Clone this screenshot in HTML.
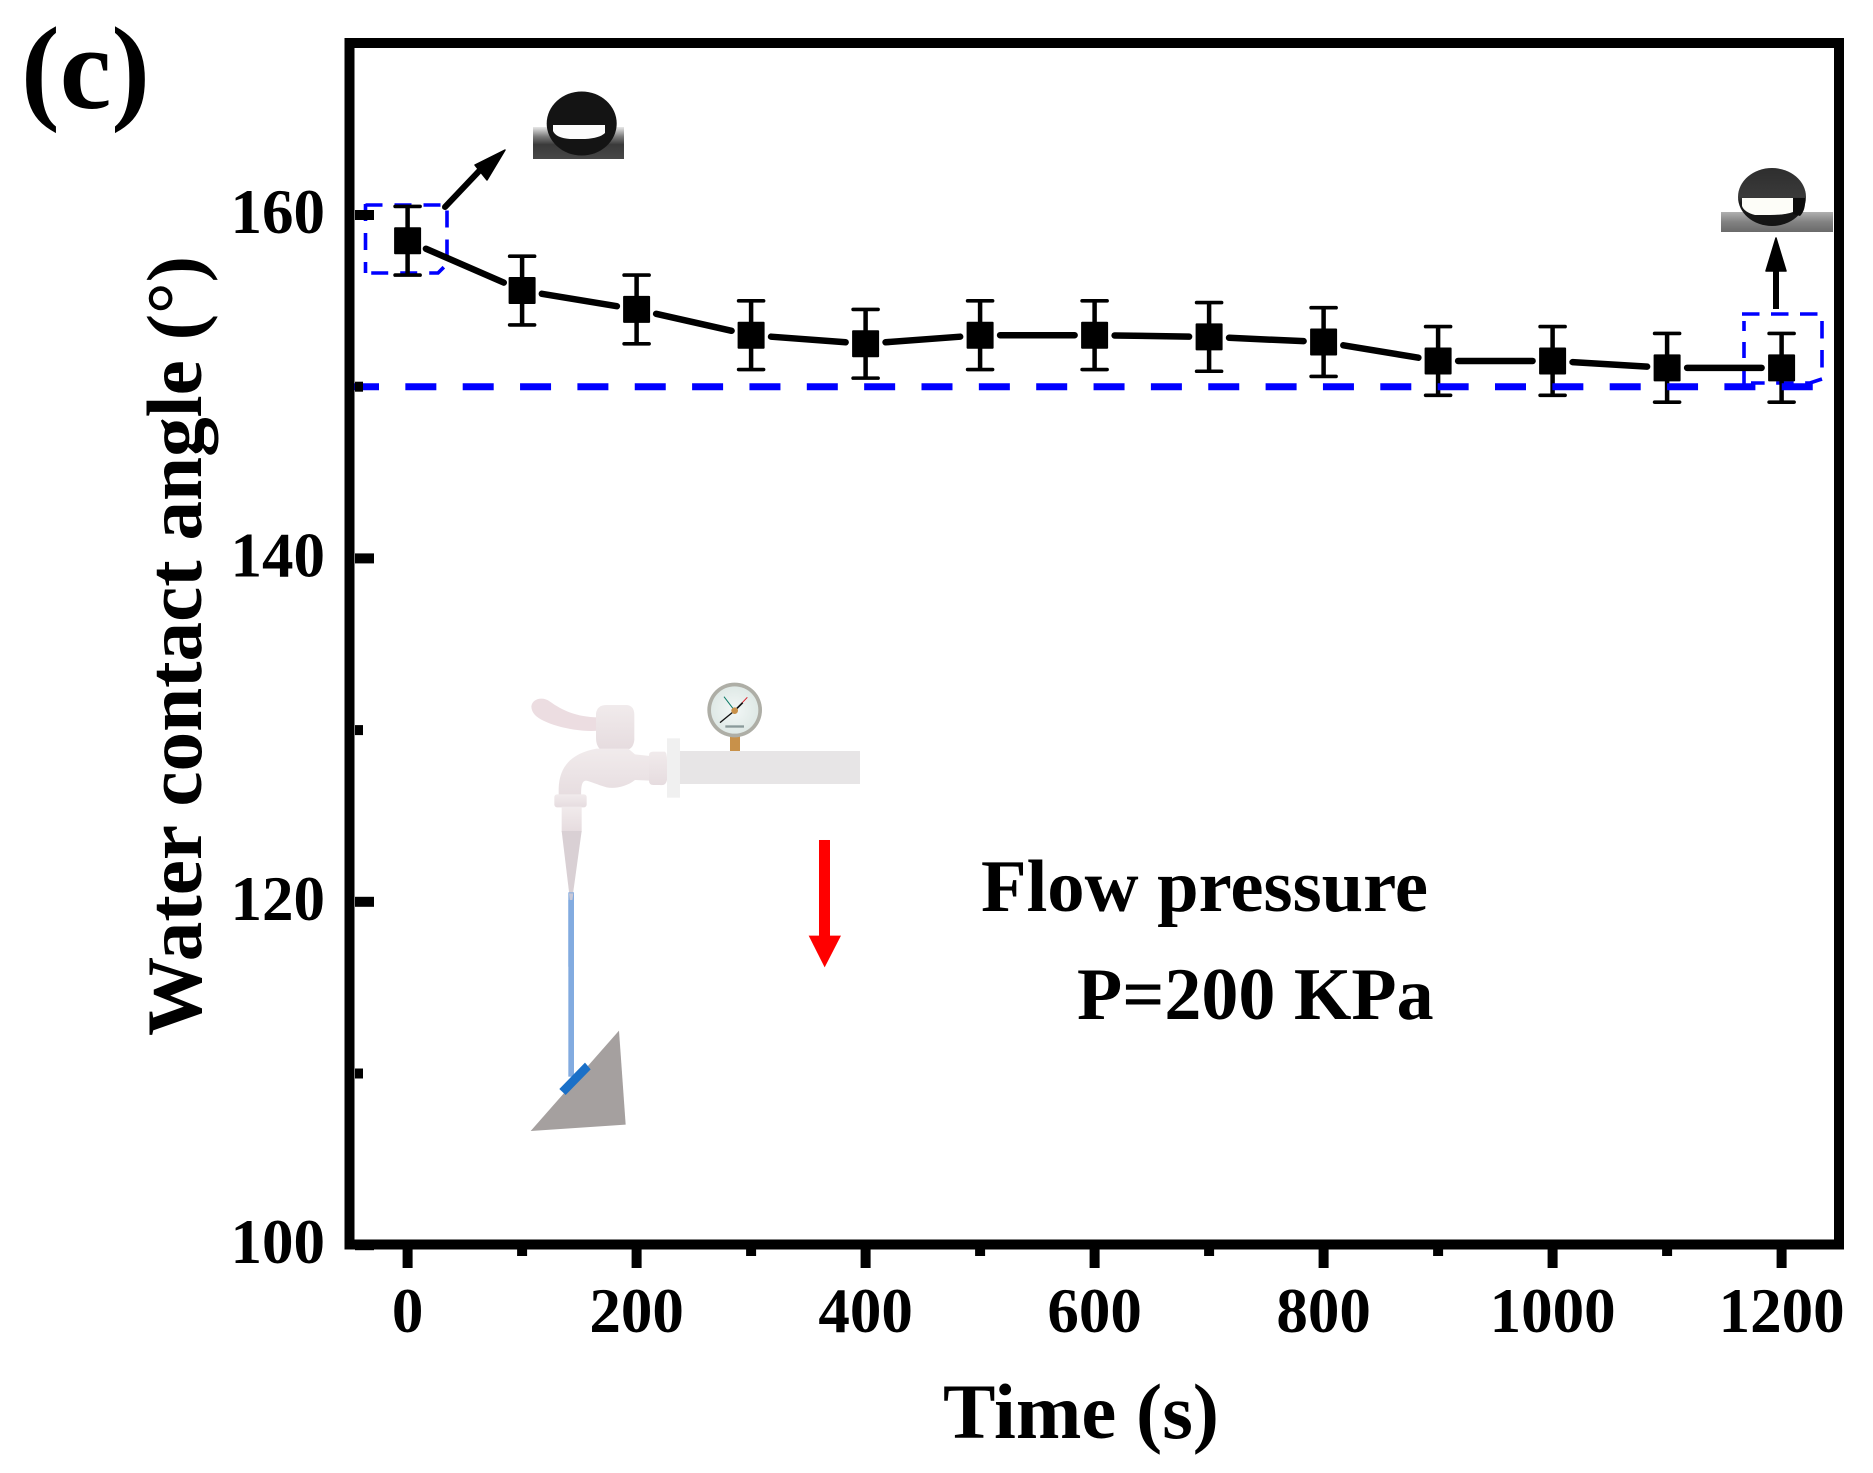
<!DOCTYPE html>
<html lang="en">
<head>
<meta charset="utf-8">
<title>Water contact angle vs time</title>
<style>
html,body{margin:0;padding:0;background:#fff;}
svg{display:block;}
text{font-family:"Liberation Serif",serif;font-weight:bold;fill:#000;}
</style>
</head>
<body>
<svg id="chart" xmlns="http://www.w3.org/2000/svg" width="1873" height="1473" viewBox="0 0 1873 1473">
  <defs>
    <linearGradient id="stripA" x1="0" y1="0" x2="0" y2="1">
      <stop offset="0" stop-color="#e8e8e8"/>
      <stop offset="0.3" stop-color="#7a7a7a"/>
      <stop offset="0.55" stop-color="#3a3a3a"/>
      <stop offset="1" stop-color="#474747"/>
    </linearGradient>
    <linearGradient id="stripB" x1="0" y1="0" x2="0" y2="1">
      <stop offset="0" stop-color="#b0b0b0"/>
      <stop offset="0.5" stop-color="#828282"/>
      <stop offset="1" stop-color="#6a6a6a"/>
    </linearGradient>
    <linearGradient id="dropB" x1="0" y1="0" x2="0" y2="1">
      <stop offset="0" stop-color="#2e2e2e"/>
      <stop offset="0.5" stop-color="#3a3a3a"/>
      <stop offset="0.6" stop-color="#1a1a1a"/>
      <stop offset="1" stop-color="#141414"/>
    </linearGradient>
    <radialGradient id="gaugeFace" cx="0.5" cy="0.5" r="0.5">
      <stop offset="0" stop-color="#f2f7f6"/>
      <stop offset="1" stop-color="#dfe9e6"/>
    </radialGradient>
    <linearGradient id="tapShade" x1="0" y1="0" x2="0" y2="1">
      <stop offset="0" stop-color="#f1ebec"/>
      <stop offset="1" stop-color="#e6dcdf"/>
    </linearGradient>
  </defs>
  <rect x="0" y="0" width="1873" height="1473" fill="#fff"/>

  <text x="21" y="108" font-size="118" textLength="129" lengthAdjust="spacingAndGlyphs">(c)</text>

  <!-- droplet photo, start -->
  <g>
    <rect x="533" y="127" width="91" height="32" fill="url(#stripA)"/>
    <ellipse cx="581.7" cy="123.5" rx="35" ry="32" fill="#141414"/>
    <path d="M553 125 H605 V133 Q600 138 585 139 L570 139 Q556 138 553 131 Z" fill="#fcfcfc"/>
  </g>

  <!-- droplet photo, end -->
  <g>
    <rect x="1721" y="212" width="112" height="20" fill="url(#stripB)"/>
    <ellipse cx="1772" cy="197" rx="34" ry="29" fill="url(#dropB)"/>
    <path d="M1742 198 H1793 V212 Q1785 215 1770 215 L1755 215 Q1744 212 1742 206 Z" fill="#fdfdf8"/>
    <path d="M1793 198 H1805 Q1806 210 1800 216 L1793 214 Z" fill="#0c0c0c"/>
  </g>

  <!-- annotation arrows -->
  <g>
    <line x1="445" y1="207" x2="482" y2="168" stroke="#000" stroke-width="6" stroke-linecap="round"/>
    <polygon points="505,150 487,180 475,165" fill="#000" stroke="#000" stroke-width="1.5" stroke-linejoin="round"/>
  </g>
  <g>
    <rect x="1773" y="268" width="6" height="41" fill="#000"/>
    <polygon points="1776,238 1786,271 1766,271" fill="#000" stroke="#000" stroke-width="1.5" stroke-linejoin="round"/>
  </g>

  <!-- highlight boxes -->
  <g fill="none" stroke="#0000ff" stroke-width="3.6">
    <path d="M365.5 205 H447 V264 L438 273 H365.5" stroke-dasharray="17 12"/>
    <path d="M365.5 204 V273" stroke-dasharray="17 12"/>
  </g>
  <g fill="none" stroke="#0000ff" stroke-width="3.6">
    <path d="M1742 314 H1822 V379 L1810 383 H1751" stroke-dasharray="17.5 11.5"/>
    <path d="M1744 321 V384" stroke-dasharray="10 11 16 13 14"/>
  </g>

  <!-- tap illustration, drawn in zoomed crop coordinates -->
  <g>
    <g transform="translate(500,660) scale(0.33333)">
      <rect x="540" y="273" width="540" height="99" fill="#e7e5e6"/>
      <rect x="501" y="235" width="39" height="178" fill="#f0f0f0"/>
      <g>
        <rect x="690" y="228" width="30" height="45" fill="#c8914a"/>
        <circle cx="704" cy="150" r="82" fill="#aeaea6"/>
        <circle cx="704" cy="150" r="71" fill="url(#gaugeFace)"/>
        <line x1="704" y1="152" x2="660" y2="188" stroke="#111" stroke-width="4"/>
        <line x1="704" y1="152" x2="742" y2="112" stroke="#d81f2a" stroke-width="3"/>
        <line x1="704" y1="152" x2="672" y2="110" stroke="#0a7a66" stroke-width="3"/>
        <line x1="704" y1="152" x2="728" y2="128" stroke="#111" stroke-width="5"/>
        <circle cx="704" cy="152" r="10" fill="#c8914a"/>
        <rect x="676" y="196" width="56" height="7" fill="#8a9a9a"/>
      </g>
      <g fill="url(#tapShade)">
        <path d="M94 140 C96 116 128 108 150 125 C185 150 230 172 295 172 L295 212 C225 218 130 192 105 165 Q95 155 94 140 Z" fill="#ecdde1"/>
        <path d="M288 160 Q292 135 320 135 L380 135 Q403 137 403 165 L403 240 Q400 264 385 268 L300 268 Q288 255 288 235 Z"/>
        <path d="M176 420 L176 385 C178 320 213 280 290 266 L385 266 L405 283 L450 288 L450 362 L405 360 C380 380 345 387 320 382 C290 374 272 364 258 362 C244 362 242 385 244 420 Z"/>
        <path d="M447 285 Q447 275 460 275 L495 275 Q501 280 501 300 L501 360 Q498 378 480 375 L460 375 Q447 375 447 362 Z"/>
        <rect x="163" y="403" width="97" height="39" rx="8"/>
        <rect x="185" y="440" width="60" height="75"/>
      </g>
      <polygon points="185,513 245,513 213,745" fill="#d9d0d4"/>
      <rect x="205" y="697" width="17" height="223" fill="#82abe0"/>
      <polygon points="207,700 220,700 213,750" fill="#d9d0d4" opacity="0.8"/>
    </g>
    <g transform="translate(500,900) scale(0.33333)">
      <rect x="205" y="0" width="17" height="530" fill="#82abe0"/>
      <polygon points="357,392 377,674 92,693" fill="#a5a09f"/>
      <polygon points="178,567 255,488 272,508 197,585" fill="#1a70c8"/>
    </g>
  </g>

  <!-- flow arrow and note -->
  <g transform="translate(500,660) scale(0.33333)">
    <rect x="957" y="540" width="33" height="290" fill="#ff0000"/>
    <polygon points="926,827 1023,827 974,922" fill="#ff0000"/>
  </g>
  <text x="981" y="911" font-size="74" textLength="447" lengthAdjust="spacingAndGlyphs">Flow pressure</text>
  <text x="1077" y="1019" font-size="74">P=200 KPa</text>

  <g id="series-layer"></g>
  <g id="threshold-layer"></g>

  <!-- plot frame -->
  <rect x="349.5" y="43" width="1489.5" height="1201.5" fill="none" stroke="#000" stroke-width="10"/>
  <g id="axis-layer"></g>

  <text x="943" y="1438" font-size="78" textLength="276" lengthAdjust="spacingAndGlyphs">Time (s)</text>
  <text x="201" y="1036" font-size="78" textLength="780" lengthAdjust="spacingAndGlyphs" transform="rotate(-90 201 1036)">Water contact angle (°)</text>
</svg>

<script>
var times = [0, 100, 200, 300, 400, 500, 600, 700, 800, 900, 1000, 1100, 1200];
var angles = [158.5, 155.6, 154.5, 153.0, 152.5, 153.0, 153.0, 152.9, 152.6, 151.5, 151.5, 151.1, 151.1];
var errors = [2, 2, 2, 2, 2, 2, 2, 2, 2, 2, 2, 2, 2];
var xMajorTicks = [0, 200, 400, 600, 800, 1000, 1200];
var xMinorTicks = [100, 300, 500, 700, 900, 1100];
var yMajorTicks = [100, 120, 140, 160];
var yMinorTicks = [110, 130, 150];
var thresholdValue = [150];

var SVGNS = 'http://www.w3.org/2000/svg';
function xScale(t) { return 407.6 + (t - 0) * 1.145; }
function yScale(v) { return 215 + (160 - v) * 17.17; }
function make(tag, parent, attrs) {
  var el = document.createElementNS(SVGNS, tag);
  for (var k in attrs) { el.setAttribute(k, attrs[k]); }
  parent.appendChild(el);
  return el;
}

var seriesLayer = document.getElementById('series-layer');
var thresholdLayer = document.getElementById('threshold-layer');
var axisLayer = document.getElementById('axis-layer');

/* connecting line segments, with a gap around each marker */
function drawSegments() {
  for (var i = 0; i < times.length - 1; i++) {
    var x1 = xScale(times[i]), y1 = yScale(angles[i]);
    var x2 = xScale(times[i + 1]), y2 = yScale(angles[i + 1]);
    var len = Math.sqrt((x2 - x1) * (x2 - x1) + (y2 - y1) * (y2 - y1));
    var ux = (x2 - x1) / len, uy = (y2 - y1) / len;
    var gap = 20;
    var seg = make('line', seriesLayer, {
      x1: x1 + ux * gap, y1: y1 + uy * gap,
      x2: x2 - ux * gap, y2: y2 - uy * gap,
      stroke: '#000', 'stroke-width': 6.5, 'stroke-linecap': 'round'
    });
    
    
  }
}

/* error bars and markers */
function drawPoints() {
  for (var j = 0; j < times.length; j++) {
    var cx = xScale(times[j]);
    var cy = yScale(angles[j]);
    var errTop = yScale(angles[j] + errors[j]);
    var errBottom = yScale(angles[j] - errors[j]);
    var stem = make('line', seriesLayer, { x1: cx, x2: cx, y1: errTop, y2: errBottom, stroke: '#000', 'stroke-width': 4.5 });
    
    
    var capTop = make('line', seriesLayer, { x1: cx - 12.5, x2: cx + 12.5, y1: errTop, y2: errTop, stroke: '#000', 'stroke-width': 3.6, 'stroke-linecap': 'round' });
    
    
    var capBottom = make('line', seriesLayer, { x1: cx - 12.5, x2: cx + 12.5, y1: errBottom, y2: errBottom, stroke: '#000', 'stroke-width': 3.6, 'stroke-linecap': 'round' });
    
    
    var marker = make('rect', seriesLayer, { x: cx - 13.5, y: cy - 13.5, width: 27, height: 27, rx: 1, fill: '#000' });
    
    
  }
}

/* 150 degree threshold line */
function drawThreshold() {
  var threshold = make('line', thresholdLayer, {
    x1: 348, x2: 1813, y1: yScale(thresholdValue[0]), y2: yScale(thresholdValue[0]),
    stroke: '#0000ff', 'stroke-width': 7, 'stroke-dasharray': '31 26.35'
  });
  
  
}

/* axis ticks */
function drawAxes() {
  xMajorTicks.forEach(function (t) {
    var tick = make('rect', axisLayer, { x: xScale(t) - 5, y: 1249, width: 10, height: 19, fill: '#000' });
    
    
    var label = make('text', axisLayer, { x: xScale(t), y: 1332, 'font-size': 63, 'text-anchor': 'middle' });
    label.textContent = String(t);
    
    
  });
  xMinorTicks.forEach(function (t) {
    var tick = make('rect', axisLayer, { x: xScale(t) - 5, y: 1249, width: 10, height: 7, fill: '#000' });
    
    
  });
  yMajorTicks.forEach(function (v) {
    var tick = make('rect', axisLayer, { x: 355, y: yScale(v) - 5, width: 19, height: 10, fill: '#000' });
    
    
    var label = make('text', axisLayer, { x: 325, y: yScale(v) + 18, 'font-size': 63, 'text-anchor': 'end' });
    label.textContent = String(v);
    
    
  });
  yMinorTicks.forEach(function (v) {
    var tick = make('rect', axisLayer, { x: 355, y: yScale(v) - 5, width: 8, height: 10, fill: '#000' });
    
    
  });
}

drawSegments();
drawPoints();
drawThreshold();
drawAxes();
</script>
</body>
</html>
